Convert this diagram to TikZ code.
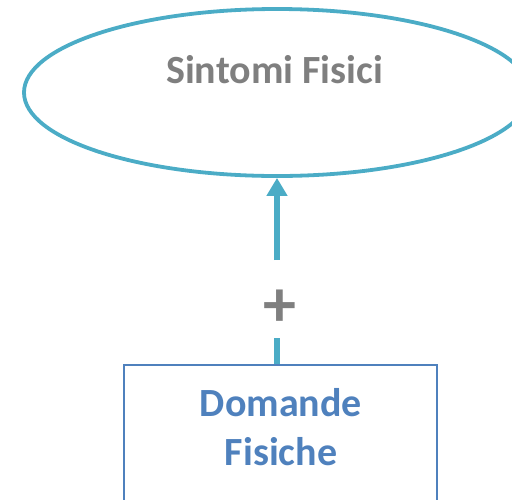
\documentclass[tikz,border=0pt]{standalone}
\usepackage{fontspec}
\setmainfont{Carlito}
\usetikzlibrary{shapes.geometric,arrows.meta}
\definecolor{sa}{HTML}{4BACC6}
\definecolor{sb}{HTML}{4F81BD}
\definecolor{sg}{HTML}{7F7F7F}

\begin{document}
\begin{tikzpicture}[x=1pt,y=-1pt]
  \useasboundingbox (0,0) rectangle (512,499);
  \clip (0,0) rectangle (512,499);

  % Top ellipse (runs past the right edge)
  \node[draw=sa,line width=3.8pt,ellipse,minimum width=506pt,minimum height=167pt,inner sep=0pt] (sintomi) at (277,92.5) {};
  \node[sg,font=\fontsize{40}{48}\selectfont\bfseries,anchor=base] (sintomitxt) at (274.5,83) {Sintomi Fisici};

  % Bottom box (cut off at the lower edge)
  \node[draw=sb,line width=2pt,minimum width=313pt,minimum height=200pt,inner sep=0pt,anchor=north] (domande) at (280.5,364) {};
  \node[sb,font=\fontsize{40}{49}\selectfont\bfseries,align=center] (domandetxt) at (281,427.5) {Domande\\Fisiche};

  % The link, broken by the plus sign
  \node[sg,font=\fontsize{66}{70}\selectfont\bfseries] (plus) at (280,308) {+};
  \coordinate (linkfoot) at (277,364);
  \coordinate (linkgap) at (277,338);
  \coordinate (linktail) at (277,260);
  \draw[sa,line width=6.5pt] (linkfoot) -- (linkgap);
  \draw[sa,line width=6.5pt,-{Triangle[width=20pt,length=18pt]}] (linktail) -- (sintomi.south);
\end{tikzpicture}
\end{document}
